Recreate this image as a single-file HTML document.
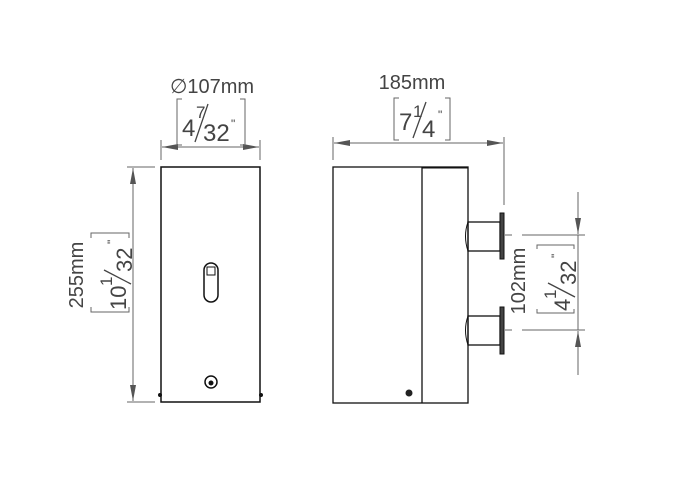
<!DOCTYPE html>
<html><head><meta charset="utf-8"><style>
html,body{margin:0;padding:0;background:#fff;}
svg{display:block;}
text{font-family:"Liberation Sans",sans-serif;fill:#444;}
</style></head><body>
<svg width="678" height="480" viewBox="0 0 678 480" xmlns="http://www.w3.org/2000/svg">
<defs>
<marker id="a" viewBox="0 0 16 6" refX="16" refY="3" markerWidth="18" markerHeight="6" markerUnits="userSpaceOnUse" orient="auto"><path d="M0,0 L16,3 L0,6 z" fill="#555"/></marker>
</defs>
<g stroke="#666" stroke-width="1" fill="none">
<line x1="161" y1="140" x2="161" y2="160"/>
<line x1="260" y1="140" x2="260" y2="160"/>
<line x1="210" y1="147" x2="162" y2="147" marker-end="url(#a)"/>
<line x1="210" y1="147" x2="259" y2="147" marker-end="url(#a)"/>
<path d="M182,99 h-5 v46 h5 M240,99 h5 v46 h-5"/>
<line x1="127" y1="167" x2="155" y2="167"/>
<line x1="127" y1="402" x2="155" y2="402"/>
<line x1="133" y1="285" x2="133" y2="168" marker-end="url(#a)"/>
<line x1="133" y1="285" x2="133" y2="401" marker-end="url(#a)"/>
<path d="M91,238 v-5 h38 v5 M91,307 v5 h38 v-5"/>
<line x1="333" y1="137" x2="333" y2="160"/>
<line x1="504" y1="137" x2="504" y2="205"/>
<line x1="420" y1="143" x2="334" y2="143" marker-end="url(#a)"/>
<line x1="420" y1="143" x2="503" y2="143" marker-end="url(#a)"/>
<path d="M399,98 h-5 v42 h5 M445,98 h5 v42 h-5"/>
<line x1="505" y1="235" x2="512" y2="235"/><line x1="522" y1="235" x2="585" y2="235"/>
<line x1="505" y1="330" x2="512" y2="330"/><line x1="522" y1="330" x2="585" y2="330"/>
<line x1="578" y1="192" x2="578" y2="234" marker-end="url(#a)"/>
<line x1="578" y1="375" x2="578" y2="331" marker-end="url(#a)"/>
<line x1="578" y1="235" x2="578" y2="330"/>
<path d="M537,249 v-4 h37 v4 M537,309 v4 h37 v-4"/>
</g>
<g stroke="#111" fill="none">
<rect x="161" y="167" width="99" height="235" stroke-width="1.5"/>
<rect x="204" y="263" width="14" height="39" rx="7" stroke-width="1.5"/>
<rect x="207" y="267" width="8" height="8" stroke-width="1"/>
<circle cx="211" cy="382" r="6" stroke-width="1.5"/>
</g>
<circle cx="211" cy="383" r="2.5" fill="#111"/>
<circle cx="160" cy="395" r="2" fill="#111"/><circle cx="261" cy="395" r="2" fill="#111"/>
<g stroke="#111" fill="none" stroke-width="1.3">
<rect x="333" y="167" width="135" height="236"/>
<line x1="422" y1="167" x2="422" y2="403"/>
<line x1="422" y1="167.5" x2="468" y2="167.5" stroke-width="2"/>
<rect x="468" y="222" width="32" height="29"/>
<rect x="468" y="316" width="32" height="29"/>
<path d="M468,222 q-5,14 0,29 M468,316 q-5,14 0,29" stroke-width="1"/>
</g>
<rect x="500" y="213" width="4" height="46" fill="#444" stroke="#111"/>
<rect x="500" y="307" width="4" height="47" fill="#444" stroke="#111"/>
<circle cx="409" cy="393" r="3.5" fill="#222"/>
<text x="212" y="93" font-size="20" text-anchor="middle">∅107mm</text>
<text x="182" y="136" font-size="24">4</text><text x="196" y="118" font-size="17">7</text>
<line x1="195" y1="142" x2="208" y2="104" stroke="#444" stroke-width="1.3"/>
<text x="203" y="141" font-size="24">32</text><text x="231" y="128" font-size="12">"</text>
<text x="412" y="89" font-size="20" text-anchor="middle">185mm</text>
<text x="399" y="130" font-size="24">7</text><text x="413" y="117" font-size="17">1</text>
<line x1="413" y1="138" x2="426" y2="102" stroke="#444" stroke-width="1.3"/>
<text x="422" y="137" font-size="24">4</text><text x="438" y="119" font-size="12">"</text>
<g transform="translate(83,275) rotate(-90)"><text x="0" y="0" font-size="20" text-anchor="middle">255mm</text></g>
<g transform="translate(118,310) rotate(-90)">
<text x="0" y="8" font-size="22">10</text><text x="24" y="-6" font-size="17">1</text>
<line x1="26" y1="13" x2="40" y2="-14" stroke="#444" stroke-width="1.3"/>
<text x="38" y="14" font-size="22">32</text><text x="66" y="-2" font-size="12">"</text></g>
<g transform="translate(525,281) rotate(-90)"><text x="0" y="0" font-size="20" text-anchor="middle">102mm</text></g>
<g transform="translate(562,311) rotate(-90)">
<text x="0" y="8" font-size="22">4</text><text x="12" y="-6" font-size="17">1</text>
<line x1="14" y1="13" x2="28" y2="-14" stroke="#444" stroke-width="1.3"/>
<text x="26" y="14" font-size="22">32</text><text x="53" y="-2" font-size="12">"</text></g>
</svg>
</body></html>
